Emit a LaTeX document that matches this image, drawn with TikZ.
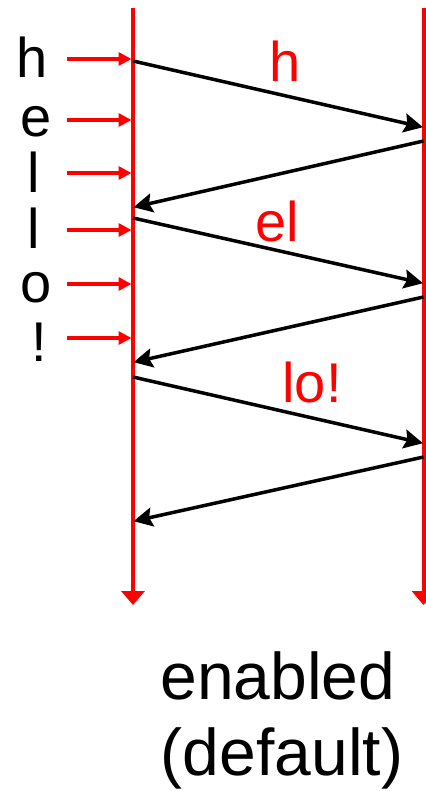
\documentclass[tikz,border=0pt]{standalone}
\usepackage{fontspec}
\setmainfont{Liberation Sans}
\usetikzlibrary{arrows.meta}
\definecolor{pured}{RGB}{255,0,0}
\tikzset{
  timeline/.style={draw=pured, line width=4pt, -{Triangle[length=14pt,width=23pt]}},
  inarrow/.style={draw=pured, line width=3.5pt, -{Triangle[length=13pt,width=13pt]}},
  msg/.style={draw=black, line width=3.5pt, -{Stealth[length=19pt,width=19pt,inset=3pt]}, shorten >=-1pt},
  letter/.style={anchor=base, inner sep=0pt, font=\fontsize{56}{60}\selectfont},
  redlabel/.style={anchor=base, inner sep=0pt, text=pured, font=\fontsize{56}{60}\selectfont},
  caption/.style={anchor=base, inner sep=0pt, font=\fontsize{66}{76}\selectfont}
}
\begin{document}
\begin{tikzpicture}[x=1pt,y=-1pt]
\useasboundingbox (0,0) rectangle (425,791);
% timelines
\coordinate (Ltop) at (133,8);
\coordinate (Lbot) at (133,605);
\coordinate (Rtop) at (423.5,8);
\coordinate (Rbot) at (423.5,605);
\draw[timeline] (Ltop) -- (Lbot);
\draw[timeline] (Rtop) -- (Rbot);
% input letters
\node[letter] (c1) at (32,78) {h};
\node[letter] (c2) at (36,137) {e};
\node[letter] (c3) at (33.5,193) {l};
\node[letter] (c4) at (33.5,249) {l};
\node[letter] (c5) at (36,302) {o};
\node[letter] (c6) at (39.5,361) {!};
% input arrows
\foreach \i/\y in {1/59,2/120,3/173,4/230,5/284,6/338}{
  \coordinate (s\i) at (67,\y);
  \coordinate (t\i) at (131.5,\y);
  \draw[inarrow] (s\i) -- (t\i);
}
% message coordinates
\coordinate (a1) at (133,61);  \coordinate (b1) at (422,127);
\coordinate (b2) at (423.5,141); \coordinate (a2) at (134.5,207);
\coordinate (a3) at (133,218); \coordinate (b3) at (422,283);
\coordinate (b4) at (423.5,297); \coordinate (a4) at (134.5,362);
\coordinate (a5) at (133,377); \coordinate (b5) at (422,443);
\coordinate (b6) at (423.5,457); \coordinate (a6) at (134.5,521);
\draw[msg] (a1) -- (b1);
\draw[msg] (b2) -- (a2);
\draw[msg] (a3) -- (b3);
\draw[msg] (b4) -- (a4);
\draw[msg] (a5) -- (b5);
\draw[msg] (b6) -- (a6);
% labels
\node[redlabel] (l1) at (285,82) {h};
\node[redlabel] (l2) at (277,242) {el};
\node[redlabel] (l3) at (312,402) {lo!};
% caption
\node[caption] (cap1) at (278,699) {enabled};
\node[caption] (cap2) at (282,775) {(default)};
\end{tikzpicture}
\end{document}
